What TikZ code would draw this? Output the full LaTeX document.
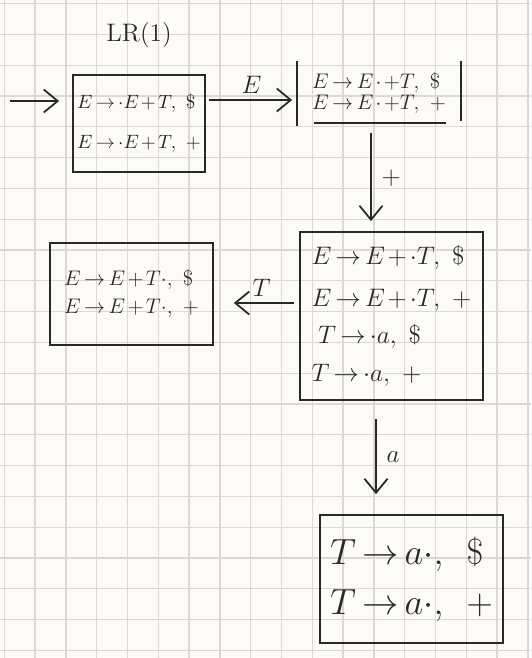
\documentclass[tikz,border=0pt]{standalone}
\usepackage{amsmath,amssymb}
\usetikzlibrary{arrows.meta}
\definecolor{paper}{RGB}{253,251,248}
\definecolor{gridgray}{RGB}{220,216,214}
\definecolor{pen}{RGB}{40,40,40}
\tikzstyle{itemset} = [rectangle, draw=pen, line width=1pt, text=pen, align=left, inner sep=2pt]
\tikzstyle{arrow} = [line width=1pt, draw=pen, -{Straight Barb[length=2.8mm,width=4.6mm]}]
\tikzstyle{lbl} = [text=pen, font=\Large]
\newcommand{\lritem}[2]{$\medmuskip=2mu\thickmuskip=3mu #1,\ #2$}

\begin{document}
\begin{tikzpicture}[node distance=2cm]
	\useasboundingbox (0,0) rectangle (10.62,-13.16);
	\fill[paper] (0,0) rectangle (10.62,-13.16);
	% squared paper
	\foreach \gx in {0,...,17}
		\draw[gridgray, line width=0.7pt] ({0.086+0.616*\gx},0) -- ({0.086+0.616*\gx},-13.16);
	\foreach \gy in {0,...,21}
		\draw[gridgray, line width=0.7pt] (0,{-0.072-0.616*\gy}) -- (10.62,{-0.072-0.616*\gy});

	\node (box1) [itemset, minimum width=2.64cm, minimum height=1.94cm, font=\fontsize{11}{13.5}\selectfont] at (2.78,-2.47)
		{\lritem{E\to\cdot E+T}{\$}\\[0.33cm] \lritem{E\to\cdot E+T}{+}};
	\node (title) [lbl, above of=box1, yshift=-0.23cm] {LR(1)};
	\node (box2) [itemset, draw=none, minimum width=3.24cm, minimum height=1.26cm, font=\fontsize{12}{14.5}\selectfont, right of=box1, xshift=2.8cm, yshift=0.6cm]
		{\lritem{E\to E\cdot{+}T}{\$}\\[-2.5pt] \lritem{E\to E\cdot{+}T}{+}};
	\node (box3) [itemset, minimum width=3.66cm, minimum height=3.36cm, font=\fontsize{13.5}{16}\selectfont, below of=box2, yshift=-2.45cm, xshift=0.25cm]
		{\lritem{E\to E+\cdot T}{\$}\\[0.27cm] \lritem{E\to E+\cdot T}{+}\\[0.17cm] \;\lritem{T\to\cdot a}{\$}\\[0.2cm] \lritem{T\to\cdot a}{+}};
	\node (box4) [itemset, minimum width=3.26cm, minimum height=2.04cm, font=\fontsize{12}{14.5}\selectfont, left of=box3, xshift=-3.2cm, yshift=0.44cm]
		{\lritem{E\to E+T\cdot}{\$}\\[0.05cm] \lritem{E\to E+T\cdot}{+}};
	\node (box5) [itemset, minimum width=3.66cm, minimum height=2.56cm, font=\huge, below of=box3, yshift=-3.26cm, xshift=0.4cm]
		{\lritem{T\to a\cdot}{\;\$}\\[0.12cm] \lritem{T\to a\cdot}{\;+}};

	% open sides of the second item set
	\draw[pen, line width=1pt] (box2.north west) -- (box2.south west);
	\draw[pen, line width=1pt] (box2.north east) -- ([yshift=0.1cm]box2.south east);
	\draw[pen, line width=1pt] ([xshift=0.34cm, yshift=0.06cm]box2.south west) -- ([xshift=-0.3cm, yshift=0.06cm]box2.south east);

	\coordinate (start) at (0.2,-2.02);
	\coordinate (eout) at ([yshift=0.47cm]box1.east);
	\coordinate (pout) at ([xshift=-0.16cm]box2.south);
	\coordinate (tout) at ([yshift=0.26cm]box3.west);
	\coordinate (aout) at ([xshift=-0.31cm]box3.south);

	\draw [arrow, shorten >=0.26cm] (start) -- ([yshift=0.45cm]box1.west);
	\draw [arrow, shorten <=0.06cm, shorten >=0.1cm] (eout) -- node[lbl, above] {$E$} (eout -| box2.west);
	\draw [arrow, shorten <=0.14cm, shorten >=0.2cm] (pout) -- node[lbl, right, xshift=0.08cm] {$+$} (pout |- box3.north);
	\draw [arrow, shorten <=0.1cm, shorten >=0.4cm] (tout) -- node[lbl, above, xshift=0.1cm] {$T$} (tout -| box4.east);
	\draw [arrow, shorten <=0.36cm, shorten >=0.4cm] (aout) -- node[lbl, right, xshift=0.08cm] {$a$} (aout |- box5.north);

\end{tikzpicture}
\end{document}
